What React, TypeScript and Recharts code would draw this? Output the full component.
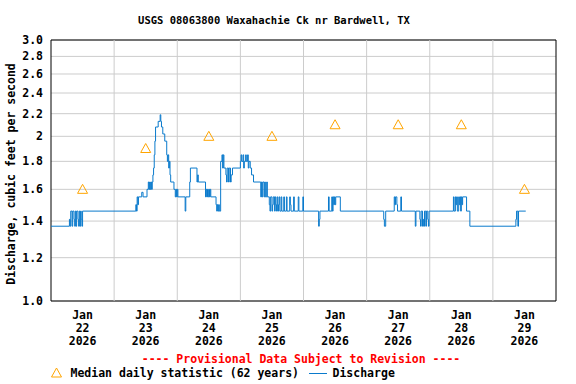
import {
  CartesianGrid,
  ComposedChart,
  Line,
  ReferenceArea,
  ReferenceLine,
  Scatter,
  XAxis,
  YAxis,
} from "recharts";

const font = "'DejaVu Sans Mono', 'Liberation Mono', monospace";
const flowColor = "#0A7ACC";
const medianColor = "#FFA500";

// hours since Jan 22 00:00, discharge (cfs) -- value changes
const flowSteps: [number, number][] = [
  [0, 1.37],
  [7.0, 1.41], [7.25, 1.37], [7.5, 1.46], [8.0, 1.37], [8.25, 1.46], [8.75, 1.41], [9.0, 1.37],
  [9.25, 1.46], [9.5, 1.37], [9.75, 1.46], [10.25, 1.41], [10.5, 1.37], [10.75, 1.46], [11.0, 1.37],
  [11.25, 1.46], [11.5, 1.41], [11.75, 1.37], [12.0, 1.46],
  [32.25, 1.5], [32.5, 1.46], [32.75, 1.55], [33.0, 1.5], [33.25, 1.55],
  [34.5, 1.58], [35.0, 1.55],
  [36.5, 1.6], [37.0, 1.65], [37.25, 1.6], [37.5, 1.65], [37.75, 1.6], [38.0, 1.65], [38.25, 1.6], [38.5, 1.65],
  [38.75, 1.7], [39.0, 1.75], [39.25, 1.85], [39.5, 1.96], [39.75, 2.08], [40.75, 2.13], [41.5, 2.19],
  [41.75, 2.13], [42.0, 2.08], [42.5, 2.02], [43.25, 1.96], [44.0, 1.85], [44.25, 1.8], [44.5, 1.85],
  [44.75, 1.75], [45.0, 1.8], [45.25, 1.7], [45.5, 1.65], [46.75, 1.6], [47.25, 1.55], [47.5, 1.6],
  [47.75, 1.55], [48.0, 1.6], [48.25, 1.55], [51.0, 1.46], [51.25, 1.55], [52.75, 1.65], [53.0, 1.75],
  [55.5, 1.65], [55.75, 1.7], [56.0, 1.65],
  [58.75, 1.55], [59.0, 1.6], [59.25, 1.55], [59.5, 1.6], [59.75, 1.55], [60.0, 1.6], [60.25, 1.55],
  [60.5, 1.6], [60.75, 1.55],
  [62.75, 1.5], [63.0, 1.46], [63.25, 1.5], [63.5, 1.46], [63.75, 1.5], [64.0, 1.46],
  [64.5, 1.8], [65.0, 1.85], [65.25, 1.75], [65.5, 1.85], [65.75, 1.75],
  [66.5, 1.7], [66.75, 1.65], [67.0, 1.75], [67.5, 1.65], [67.75, 1.75], [68.25, 1.65], [68.5, 1.7], [69.0, 1.75],
  [72.0, 1.8], [72.25, 1.85], [72.5, 1.8], [73.0, 1.85], [73.25, 1.75], [73.5, 1.8], [74.0, 1.85],
  [74.25, 1.8], [74.75, 1.85], [75.0, 1.75], [75.25, 1.8], [75.75, 1.75],
  [76.25, 1.7], [77.0, 1.65],
  [79.75, 1.55], [80.0, 1.65], [80.25, 1.55], [80.5, 1.65], [81.0, 1.55], [81.25, 1.65], [81.5, 1.55],
  [82.0, 1.65], [82.25, 1.55],
  [83.0, 1.5], [83.25, 1.46], [83.5, 1.55], [84.0, 1.46], [84.25, 1.5], [84.5, 1.55], [85.0, 1.46],
  [85.25, 1.55], [85.5, 1.5], [85.75, 1.46], [86.0, 1.55], [86.25, 1.46], [86.5, 1.5], [86.75, 1.55],
  [87.0, 1.46], [87.5, 1.55], [87.75, 1.46], [88.5, 1.55], [88.75, 1.46], [89.5, 1.55], [89.75, 1.46],
  [90.75, 1.55], [91.0, 1.5], [91.25, 1.46], [92.25, 1.55], [92.5, 1.46], [94.0, 1.55], [94.25, 1.46],
  [95.75, 1.55], [96.0, 1.46],
  [101.75, 1.37], [102.0, 1.41], [102.25, 1.46],
  [105.5, 1.55], [105.75, 1.46], [106.75, 1.55], [107.0, 1.46], [107.25, 1.55], [107.5, 1.5],
  [107.75, 1.55], [108.0, 1.5], [108.25, 1.55], [110.0, 1.46],
  [126.5, 1.41], [126.75, 1.37], [127.25, 1.46],
  [130.5, 1.55], [130.75, 1.5], [131.0, 1.55], [131.5, 1.5], [131.75, 1.46], [133.0, 1.55], [133.25, 1.46],
  [138.5, 1.37], [138.75, 1.46],
  [140.25, 1.41], [140.5, 1.37], [140.75, 1.46], [141.25, 1.37], [141.5, 1.41], [141.75, 1.37],
  [142.0, 1.46], [142.5, 1.37], [142.75, 1.46], [143.25, 1.41], [143.5, 1.37], [143.75, 1.46],
  [153.0, 1.55], [153.25, 1.46], [153.75, 1.55], [154.0, 1.5], [154.25, 1.55], [154.5, 1.46],
  [155.0, 1.55], [155.25, 1.5], [155.5, 1.55], [155.75, 1.46], [156.0, 1.55], [156.25, 1.5],
  [156.5, 1.55], [158.0, 1.46],
  [159.25, 1.37],
  [176.75, 1.41], [177.0, 1.46], [177.5, 1.37], [177.75, 1.46], [180.5, 1.46],
];

const medianHours = [12, 36, 60, 84, 108, 132, 156, 180];
const medianCfs = [1.6, 1.9, 2.0, 2.0, 2.1, 2.1, 2.1, 1.6];
const dayLabels = ["22", "23", "24", "25", "26", "27", "28", "29"];
const dayBoundaries = [24, 48, 72, 96, 120, 144, 168];
const yTicks = [1.0, 1.2, 1.4, 1.6, 1.8, 2.0, 2.2, 2.4, 2.6, 2.8, 3.0];

const flow = flowSteps.map(([t, q]) => ({ t, q }));
const median = medianHours.map((t, i) => ({ t, v: medianCfs[i] }));

const fmtY = (v: number) => (v === 1 || v === 3 ? v.toFixed(1) : String(v));

function DateTick({ x, y, payload }: any) {
  const i = medianHours.indexOf(payload.value);
  return (
    <text x={x} y={y} textAnchor="middle" fontFamily={font} fontWeight="bold" fontSize={11.5} fill="#000">
      <tspan x={x} dy={10}>Jan</tspan>
      <tspan x={x} dy={13}>{dayLabels[i]}</tspan>
      <tspan x={x} dy={13}>2026</tspan>
    </text>
  );
}

function Triangle({ cx, cy }: any) {
  return (
    <polygon
      points={`${cx},${cy - 5} ${cx - 5},${cy + 4} ${cx + 5},${cy + 4}`}
      fill="none"
      stroke={medianColor}
      strokeWidth={1}
    />
  );
}

export default function App() {
  return (
    <div style={{ position: "absolute", left: 0, top: 0, width: 576, height: 384, background: "#fff" }}>
      <ComposedChart width={576} height={384} margin={{ top: 40, right: 20, left: 0, bottom: 33 }}>
        <CartesianGrid vertical={false} stroke="#cccccc" />
        <XAxis
          dataKey="t"
          type="number"
          domain={[0, 192]}
          ticks={medianHours}
          interval={0}
          tick={<DateTick />}
          tickLine={false}
          axisLine={false}
          height={50}
          allowDataOverflow
        />
        <YAxis
          type="number"
          scale="log"
          domain={[1, 3]}
          ticks={yTicks}
          interval={0}
          tickFormatter={fmtY}
          tickLine={false}
          axisLine={false}
          width={51}
          allowDataOverflow
          tick={{ fontFamily: font, fontWeight: "bold", fontSize: 11.5, fill: "#000" }}
        />
        {dayBoundaries.map((h) => (
          <ReferenceLine key={h} x={h} stroke="#cccccc" />
        ))}
        <Line
          data={flow}
          dataKey="q"
          type="stepAfter"
          stroke={flowColor}
          strokeWidth={1}
          dot={false}
          isAnimationActive={false}
        />
        <Scatter data={median} dataKey="v" shape={<Triangle />} isAnimationActive={false} />
        <ReferenceArea x1={0} x2={192} y1={1} y2={3} fill="none" stroke="#000" strokeWidth={1} ifOverflow="visible" />
      </ComposedChart>
      <svg
        width={576}
        height={384}
        style={{ position: "absolute", left: 0, top: 0, pointerEvents: "none" }}
        fontFamily={font}
        fontWeight="bold"
      >
        <text x={274} y={20} textAnchor="middle" dominantBaseline="central" fontSize={10.5} fill="#000">
          USGS 08063800 Waxahachie Ck nr Bardwell, TX
        </text>
        <text
          x={11}
          y={174}
          textAnchor="middle"
          dominantBaseline="central"
          fontSize={11.5}
          fill="#000"
          transform="rotate(-90 11 174)"
        >
          Discharge, cubic feet per second
        </text>
        <text x={301} y={359} textAnchor="middle" dominantBaseline="central" fontSize={11.5} fill="#ff0000">
          ---- Provisional Data Subject to Revision ----
        </text>
        <polygon points="56.5,368 51.5,377 61.5,377" fill="none" stroke={medianColor} strokeWidth={1} />
        <text x={70.5} y={373} dominantBaseline="central" fontSize={11.5} fill="#000">
          Median daily statistic (62 years)
        </text>
        <line x1={309} y1={373.5} x2={327} y2={373.5} stroke={flowColor} strokeWidth={1} />
        <text x={332.5} y={373} dominantBaseline="central" fontSize={11.5} fill="#000">
          Discharge
        </text>
      </svg>
    </div>
  );
}
